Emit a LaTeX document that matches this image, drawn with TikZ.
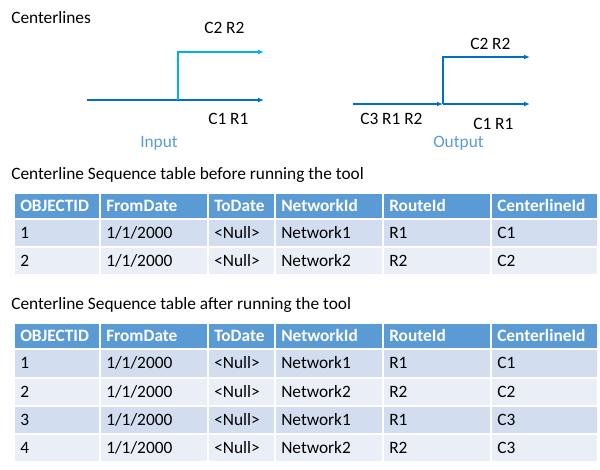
\documentclass[tikz,border=0pt]{standalone}
\usepackage{fontspec}
\setmainfont{Carlito}
\usetikzlibrary{arrows.meta,calc}
\definecolor{hdrblue}{HTML}{5B9BD5}
\definecolor{rowodd}{HTML}{D2DEEF}
\definecolor{roweven}{HTML}{EAEFF7}
\definecolor{linedark}{HTML}{0070C0}
\definecolor{linecyan}{HTML}{00B0F0}
\definecolor{lblblue}{HTML}{5B9BD5}
\tikzset{
  cellbox/.style={rectangle, draw=white, line width=1.2pt, anchor=north west, inner sep=0pt},
  hdr/.style={fill=hdrblue},
  odd/.style={fill=rowodd},
  even/.style={fill=roweven},
  hdrtxt/.style={inner sep=0pt, text=white, font=\fontsize{13}{15}\selectfont\bfseries},
  bodytxt/.style={inner sep=0pt, text=black, font=\fontsize{13}{15}\selectfont},
  oddtxt/.style={bodytxt},
  eventxt/.style={bodytxt},
  lbl/.style={inner sep=0pt, anchor=base west, font=\fontsize{13}{15}\selectfont},
  captxt/.style={lbl, text=lblblue},
  tipend/.style={-{Latex[length=4.5pt,width=3.6pt]}},
  dk/.style={draw=linedark, line width=1.1pt},
  cy/.style={draw=linecyan, line width=1.1pt},
}
\newcommand\tablerow[5]{%
  \foreach \t [count=\i] in {#5} {
    \pgfmathsetmacro\xl{{13,99,207,274,382,490,597}[\i-1]}
    \pgfmathsetmacro\xr{{13,99,207,274,382,490,597}[\i]}
    \node[cellbox,#4, minimum width={(\xr-\xl)*0.75pt}, minimum height={(#3-#2)*0.75pt}] (#1-\i) at (\xl,#2) {};
    \node[#4txt, anchor=base west] (#1-\i-t) at ($(#1-\i.west)+(7,5.5)$) {\t};
  }}
\begin{document}
\begin{tikzpicture}[x=0.75pt,y=-0.75pt]
\useasboundingbox (0,0) rectangle (600,469);
% titles
\node[lbl] (title) at (11,23) {Centerlines};
% input diagram
\coordinate (ia) at (87,100);
\coordinate (ib) at (178,100);
\coordinate (ic) at (264,100);
\coordinate (id) at (178,52);
\coordinate (ie) at (264,52);
\draw[dk, tipend] (ia) -- (ic);
\draw[draw=linedark, line width=1.8pt] (ia) -- (ib);
\draw[cy, tipend] (ib) -- (id) -- (ie);
\node[lbl] (in-c2) at (204,33) {C2 R2};
\node[lbl] (in-c1) at (208,124) {C1 R1};
\node[captxt] (in-cap) at (140,147) {Input};
% output diagram
\coordinate (oa) at (353,104);
\coordinate (ob) at (443,104);
\coordinate (oc) at (530,104);
\coordinate (od) at (443,57);
\coordinate (oe) at (530,57);
\draw[dk, tipend] (oa) -- (ob);
\draw[dk, tipend] (ob) -- (oc);
\draw[dk, tipend] (ob) -- (od) -- (oe);
\node[lbl] (out-c2) at (470,49) {C2 R2};
\node[lbl] (out-c3) at (360,124) {C3 R1 R2};
\node[lbl] (out-c1) at (473,129) {C1 R1};
\node[captxt] (out-cap) at (433,147) {Output};
% table 1
\node[lbl] (t1title) at (11,179) {Centerline Sequence table before running the tool};
\tablerow{ta0}{192}{218}{hdr}{OBJECTID,FromDate,ToDate,NetworkId,RouteId,CenterlineId}
\tablerow{ta1}{218}{246}{odd}{1,1/1/2000,<Null>,Network1,R1,C1}
\tablerow{ta2}{246}{274}{even}{2,1/1/2000,<Null>,Network2,R2,C2}
% table 2
\node[lbl] (t2title) at (11,309) {Centerline Sequence table after running the tool};
\tablerow{tb0}{322}{348}{hdr}{OBJECTID,FromDate,ToDate,NetworkId,RouteId,CenterlineId}
\tablerow{tb1}{348}{377}{odd}{1,1/1/2000,<Null>,Network1,R1,C1}
\tablerow{tb2}{377}{405}{even}{2,1/1/2000,<Null>,Network2,R2,C2}
\tablerow{tb3}{405}{433}{odd}{3,1/1/2000,<Null>,Network1,R1,C3}
\tablerow{tb4}{433}{461}{even}{4,1/1/2000,<Null>,Network2,R2,C3}
\end{tikzpicture}
\end{document}
